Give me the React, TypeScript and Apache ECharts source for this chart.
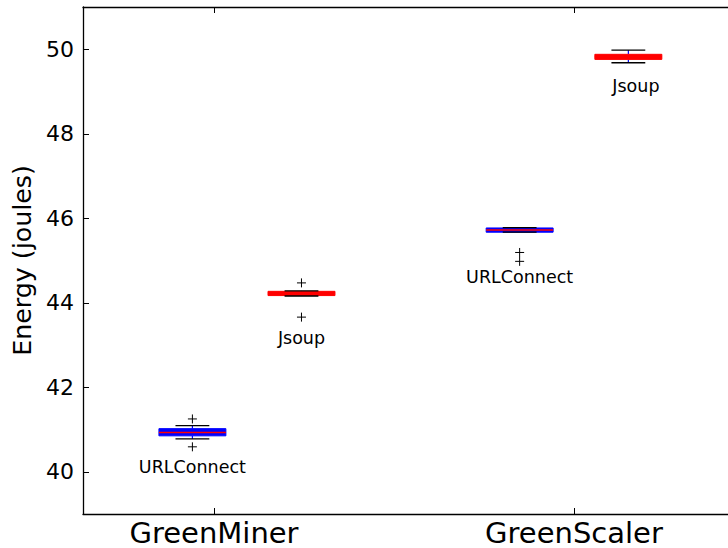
import React, { useEffect, useRef } from "react";
import * as echarts from "echarts";

const groupNames = ["GreenMiner", "GreenScaler"];
const groupTicks = [1, 2];
const yTicks = [40, 42, 44, 46, 48, 50];

const boxNames = ["URLConnect", "Jsoup", "URLConnect", "Jsoup"];
const boxPositions = [0.94, 1.243, 1.849, 2.151];
const whiskerLow = [40.78, 44.16, 45.67, 49.68];
const q1 = [40.85, 44.17, 45.67, 49.76];
const medians = [40.93, 44.23, 45.72, 49.82];
const q3 = [41.02, 44.27, 45.77, 49.88];
const whiskerHigh = [41.09, 44.28, 45.78, 49.98];
const outliers = [[41.25, 40.59], [44.47, 43.66], [45.19, 44.98], []];
const labelX = [0.94, 1.243, 1.849, 2.172];
const labelY = [40.118, 43.175, 44.621, 49.14];
const boxColors = ["#0000ff", "#ff0000", "#0000ff", "#ff0000"];

const FONT = "DejaVu Sans";

export default function App() {
  const ref = useRef<HTMLDivElement>(null);
  useEffect(() => {
    if (!ref.current) return;
    const chart = echarts.init(ref.current, null, { renderer: "svg" });
    const data = boxPositions.map((p, i) => [p, i]);
    const BOX_W = 0.186;
    const CAP_W = 0.094;
    const option: any = {
      animation: false,
      backgroundColor: "#ffffff",
      grid: { left: 83, top: 7, right: 0, bottom: 34, containLabel: false, outerBoundsMode: "none" },
      xAxis: [
        {
          type: "value",
          min: 0.6361,
          max: 2.4278,
          position: "bottom",
          axisLine: { show: true, onZero: false, lineStyle: { color: "#000", width: 1.3 } },
          axisTick: { show: true, inside: true, length: 6, customValues: groupTicks, lineStyle: { color: "#000", width: 1 } },
          axisLabel: {
            show: true,
            customValues: groupTicks,
            formatter: (v: number) => groupNames[groupTicks.indexOf(Math.round(v))] ?? "",
            fontSize: 29,
            lineHeight: 29,
            fontFamily: FONT,
            color: "#000",
            margin: 4,
          },
          splitLine: { show: false },
        },
        {
          type: "value",
          min: 0.6361,
          max: 2.4278,
          position: "top",
          axisLine: { show: true, onZero: false, lineStyle: { color: "#000", width: 1.3 } },
          axisTick: { show: true, inside: true, length: 6, customValues: groupTicks, lineStyle: { color: "#000", width: 1 } },
          axisLabel: { show: false },
          splitLine: { show: false },
        },
      ],
      yAxis: {
        type: "value",
        min: 39,
        max: 51,
        name: "Energy (joules)",
        nameLocation: "middle",
        nameGap: 45,
        nameTextStyle: { fontSize: 25.3, fontFamily: FONT, color: "#000" },
        axisLine: { show: true, onZero: false, lineStyle: { color: "#000", width: 1.3 } },
        axisTick: { show: true, inside: true, length: 6, customValues: yTicks, lineStyle: { color: "#000", width: 1 } },
        axisLabel: {
          show: true,
          customValues: yTicks,
          fontSize: 22,
          fontFamily: FONT,
          color: "#000",
          margin: 9,
        },
        splitLine: { show: false },
      },
      series: [
        {
          type: "custom",
          xAxisIndex: 0,
          yAxisIndex: 0,
          data,
          encode: { x: 0 },
          clip: false,
          renderItem: (params: any, api: any) => {
            const i = api.value(1);
            const pos = api.value(0);
            const boxW = api.size([BOX_W, 0])[0];
            const capW = api.size([CAP_W, 0])[0];
            const c = api.coord([pos, medians[i]]);
            const cx = c[0];
            const yq1 = api.coord([pos, q1[i]])[1];
            const yq3 = api.coord([pos, q3[i]])[1];
            const yLo = api.coord([pos, whiskerLow[i]])[1];
            const yHi = api.coord([pos, whiskerHigh[i]])[1];
            const color = boxColors[i];
            const children: any[] = [];
            children.push({
              type: "line",
              shape: { x1: cx, y1: yq3, x2: cx, y2: yHi },
              style: { stroke: "#0000ff", lineWidth: 1.2, lineDash: [4, 3] },
            });
            children.push({
              type: "line",
              shape: { x1: cx, y1: yq1, x2: cx, y2: yLo },
              style: { stroke: "#0000ff", lineWidth: 1.2, lineDash: [4, 3] },
            });
            children.push({
              type: "rect",
              shape: { x: cx - boxW / 2, y: yq3, width: boxW, height: Math.max(yq1 - yq3, 1) },
              style: { fill: color, stroke: color, lineWidth: 1 },
            });
            children.push({
              type: "line",
              shape: { x1: cx - boxW / 2, y1: c[1], x2: cx + boxW / 2, y2: c[1] },
              style: { stroke: "#ff0000", lineWidth: 1.5 },
            });
            [yLo, yHi].forEach((y) => {
              children.push({
                type: "line",
                shape: { x1: cx - capW / 2, y1: y, x2: cx + capW / 2, y2: y },
                style: { stroke: "#000", lineWidth: 1.3 },
              });
            });
            outliers[i].forEach((v: number) => {
              const y = api.coord([pos, v])[1];
              children.push({
                type: "line",
                shape: { x1: cx - 4.5, y1: y, x2: cx + 4.5, y2: y },
                style: { stroke: "#000", lineWidth: 1 },
              });
              children.push({
                type: "line",
                shape: { x1: cx, y1: y - 4.5, x2: cx, y2: y + 4.5 },
                style: { stroke: "#000", lineWidth: 1 },
              });
            });
            const lp = api.coord([labelX[i], labelY[i]]);
            children.push({
              type: "text",
              x: lp[0],
              y: lp[1],
              style: {
                text: boxNames[i],
                fontSize: 17.5,
                fontFamily: FONT,
                fill: "#000",
                align: "center",
                verticalAlign: "middle",
              },
            });
            return { type: "group", children };
          },
        },
      ],
    };
    chart.setOption(option);
    return () => chart.dispose();
  }, []);
  return (
    <div
      ref={ref}
      style={{ position: "fixed", left: 0, top: 0, width: 728, height: 548, background: "#fff" }}
    />
  );
}
